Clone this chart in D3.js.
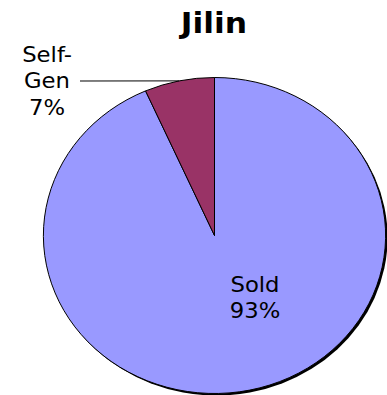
<!DOCTYPE html>
<html>
<head>
<meta charset="utf-8">
<script src="https://cdn.jsdelivr.net/npm/d3@7"></script>
<style>
  html, body { margin: 0; padding: 0; background: #fff; }
  svg { display: block; }
  text { font-family: "DejaVu Sans", Verdana, sans-serif; fill: #000; }
</style>
</head>
<body>
<svg id="chart" width="387" height="395"></svg>
<script>
// chart data
const title = "Jilin";
const categories = ["Sold", "Self-Gen"];
const shares = [93.4, 6.6];
const colors = ["#9999ff", "#993366"];

const width = 387, height = 395;
const cx = 214.5, cy = 235.5;
const radius = 158;
const stretch = 1.083; // the original pie is drawn slightly wider than tall

const svg = d3.select("#chart");

const data = categories.map((c, i) => ({ name: c, value: shares[i], color: colors[i] }));
const pie = d3.pie().sort(null).value(d => d.value);
const arcs = pie(data);
const arc = d3.arc().innerRadius(0).outerRadius(radius);

// drop shadow
svg.append("path")
    .attr("transform", "translate(" + (cx + 2) + "," + (cy + 2) + ") scale(" + stretch + ",1)")
    .attr("d", d3.arc().innerRadius(0).outerRadius(radius).startAngle(0).endAngle(2 * Math.PI)())
    .attr("fill", "#000");

const plot = svg.append("g")
    .attr("transform", "translate(" + cx + "," + cy + ") scale(" + stretch + ",1)");

plot.selectAll("path.slice")
    .data(arcs)
    .enter().append("path")
    .attr("class", "slice")
    .attr("d", arc)
    .attr("fill", d => d.data.color)
    .attr("stroke", "#000")
    .attr("stroke-width", 1)
    .attr("vector-effect", "non-scaling-stroke");

function label(x, y, lines, size, weight) {
    const g = svg.append("g").attr("transform", "translate(" + x + "," + y + ") scale(" + stretch + ",1)");
    lines.forEach((t, i) => {
        g.append("text")
            .attr("x", 0)
            .attr("y", i * 26.5)
            .attr("text-anchor", "middle")
            .style("font-size", size + "px")
            .style("font-weight", weight || "normal")
            .text(t);
    });
}

// title
label(214, 33, [title], 29, "bold");

// Self-Gen label with leader line to the slice edge
const small = arcs[1];
const mid = (small.startAngle + small.endAngle) / 2;
const edgeX = cx + radius * stretch * Math.sin(mid);
const edgeY = cy - radius * Math.cos(mid);
svg.append("line")
    .attr("x1", 80).attr("y1", 81)
    .attr("x2", edgeX).attr("y2", edgeY)
    .attr("stroke", "#000")
    .attr("stroke-width", 1);
label(47, 62, ["Self-", "Gen", Math.round(small.data.value) + "%"], 21);

// Sold label inside the slice
const big = arcs[0];
label(255, 292, [big.data.name, Math.round(big.data.value) + "%"], 21);
</script>
</body>
</html>
